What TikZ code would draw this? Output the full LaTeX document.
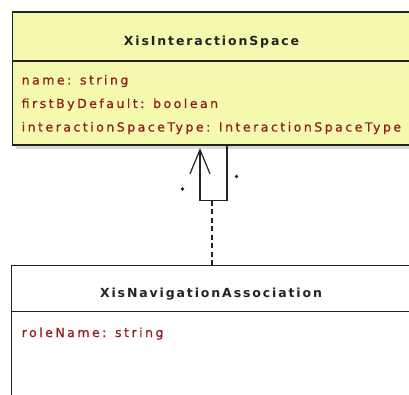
\documentclass[tikz,border=0pt]{standalone}
\usepackage{fontspec}
\setmainfont[LetterSpace=20]{DejaVu Sans}
\usetikzlibrary{arrows.meta}
\definecolor{classfill}{RGB}{245,249,174}
\definecolor{attrred}{RGB}{145,30,30}
\definecolor{edge}{RGB}{35,35,35}
\tikzset{every picture/.style = {x=1pt, y=-1pt}}
\tikzset{classbox/.style = {draw=edge, line width=1.4pt, inner sep=0}}
\tikzset{title/.style = {font=\fontsize{12.5}{15}\selectfont\bfseries\addfontfeatures{LetterSpace=15}, text=edge, anchor=base, inner sep=0}}
\tikzset{attr/.style = {font=\fontsize{12.5}{15}\selectfont\addfontfeatures{FakeBold=0.8}, text=attrred, anchor=base west, inner sep=0}}
\tikzset{mult/.style = {fill=edge, shape=circle, inner sep=1.3pt}}
\begin{document}
\begin{tikzpicture}
  \clip (0,0) rectangle (409,395);
  \fill[white] (0,0) rectangle (409,395);
  % interaction space class
  \fill[gray!30] (16,145) rectangle (412,149);
  \node(space)[classbox, fill=classfill, minimum width=399pt, minimum height=133pt] at (212,78.5) {};
  \draw[edge, line width=1.2pt] (12.5,61) -- (411.5,61);
  \node(spacename)[title] at (211.5,46) {XisInteractionSpace};
  \node(attr1)[attr] at (21.5,84.5) {name: string};
  \node(attr2)[attr] at (21.5,108) {firstByDefault: boolean};
  \node(attr3)[attr] at (21.5,131.5) {interactionSpaceType: InteractionSpaceType};
  % navigation association class
  \node(assoc)[classbox, fill=white, minimum width=400pt, minimum height=160pt] at (211.5,345.5) {};
  \draw[edge, line width=1.2pt] (11.5,311.7) -- (411.5,311.7);
  \node(assocname)[title] at (211,297) {XisNavigationAssociation};
  \node(role)[attr] at (21.5,337) {roleName: string};
  % self association
  \coordinate (tip) at ([xshift=-12pt, yshift=-2.5pt]space.south);
  \coordinate (foot) at ([xshift=15pt]space.south);
  \coordinate (loop) at ([yshift=-55pt]space.south);
  \draw[edge, line width=1.2pt, -{Straight Barb[length=24pt, width=20pt]}]
    (foot) -- ++(0,55) -| (tip);
  \draw[edge, line width=1.2pt, dash pattern=on 5pt off 3.5pt]
    (loop) -- (loop |- assoc.north);
  \node(m1)[mult] at (182.5,189) {};
  \node(m2)[mult] at (236.5,176.5) {};
\end{tikzpicture}
\end{document}
